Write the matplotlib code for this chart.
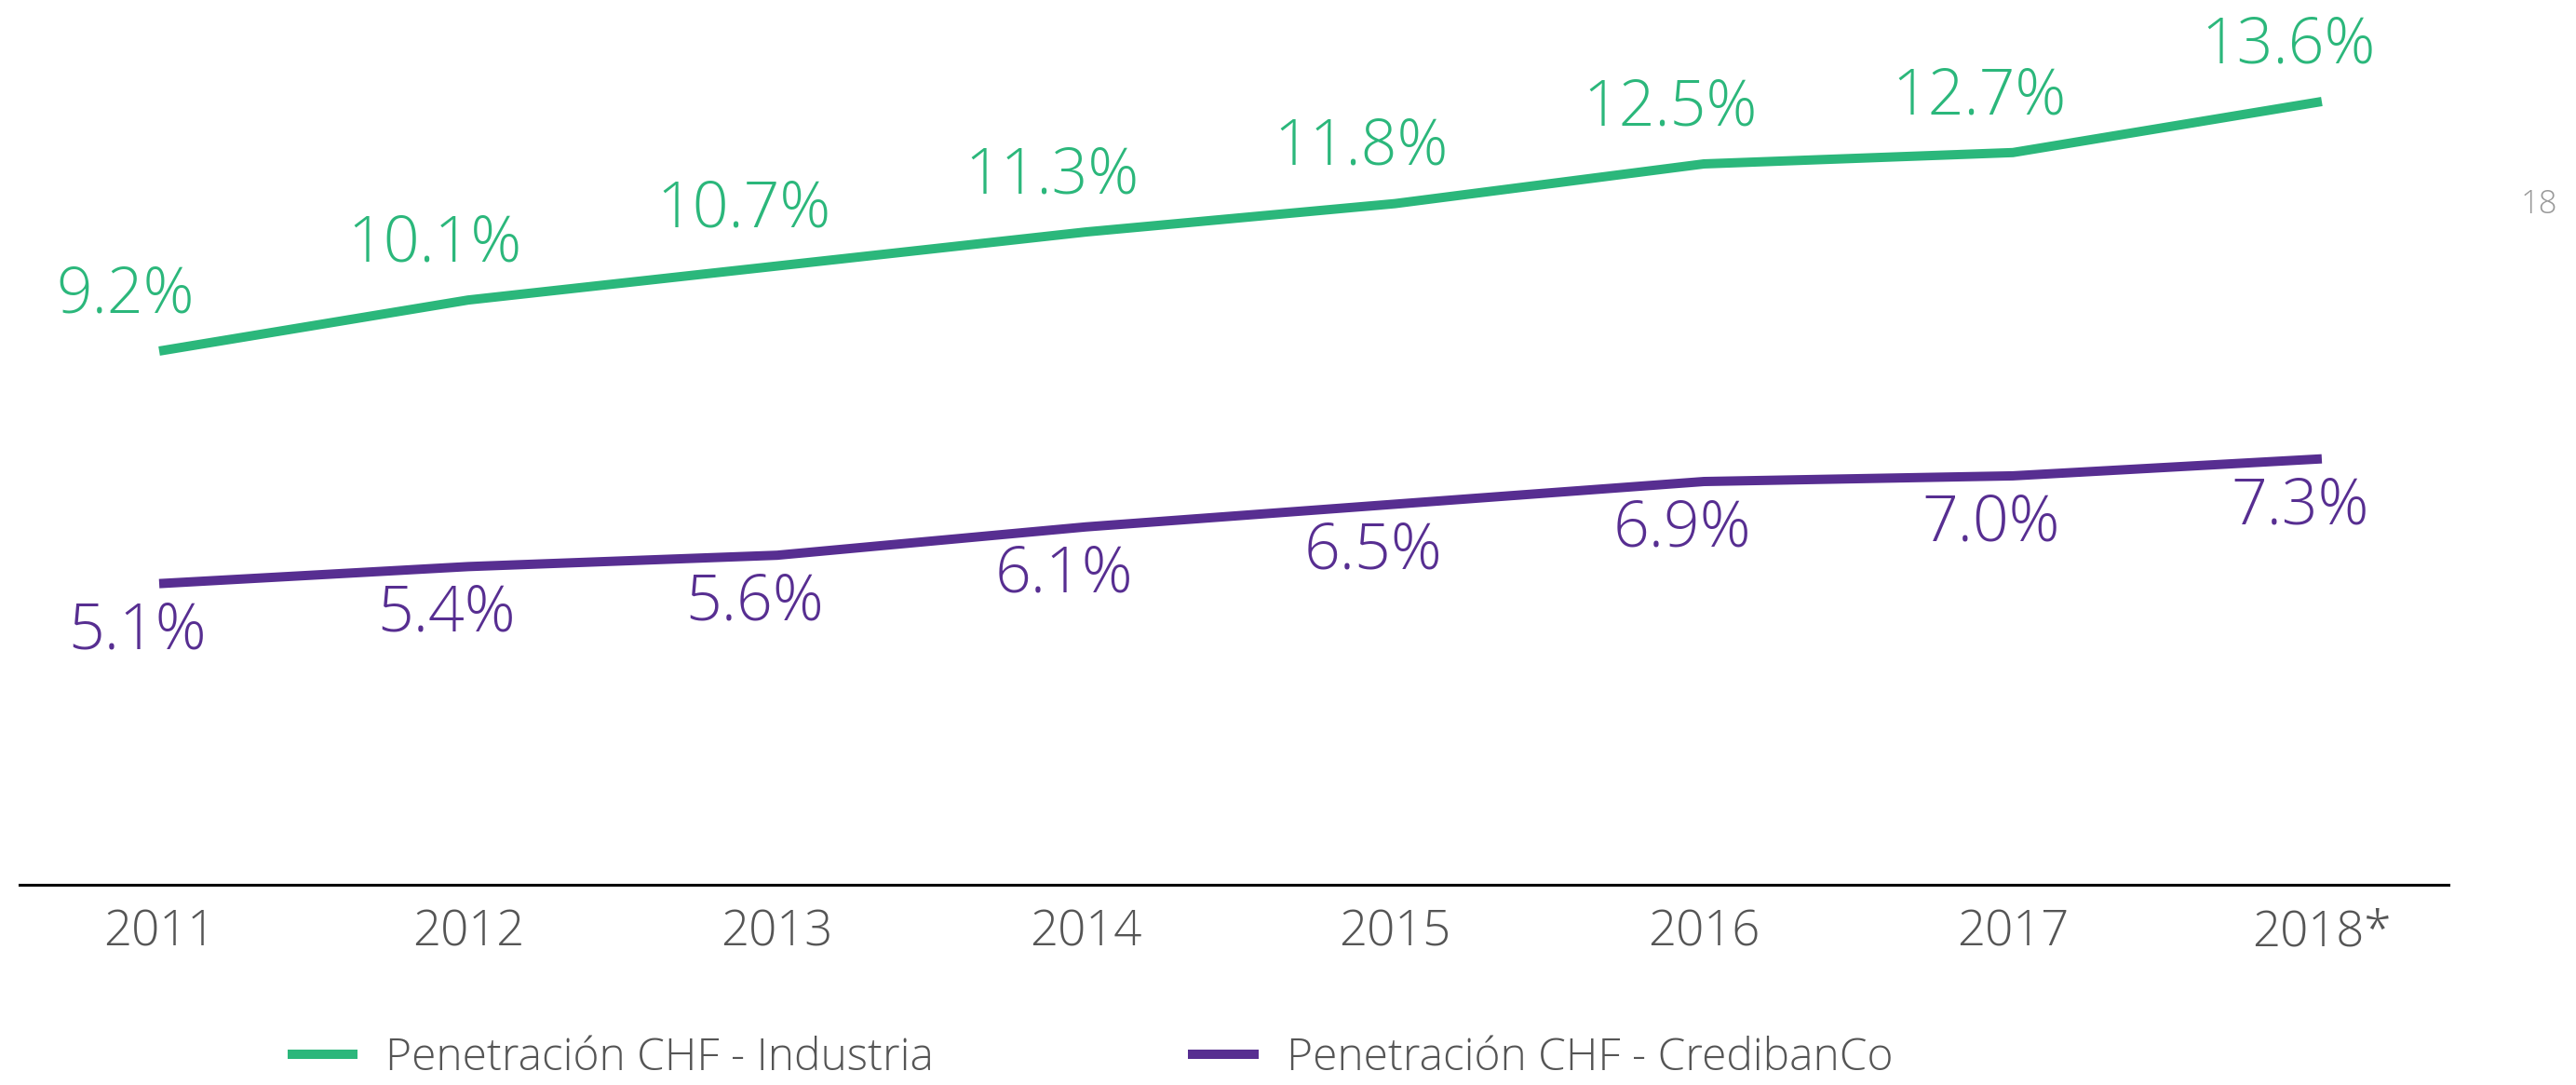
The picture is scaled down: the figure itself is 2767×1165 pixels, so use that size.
import matplotlib
matplotlib.use("Agg")
from matplotlib import pyplot as plt
from matplotlib.lines import Line2D

# data
years = ["2011", "2012", "2013", "2014", "2015", "2016", "2017", "2018*"]
industria = [9.2, 10.1, 10.7, 11.3, 11.8, 12.5, 12.7, 13.6]
credibanco = [5.1, 5.4, 5.6, 6.1, 6.5, 6.9, 7.0, 7.3]
series_names = ["Penetración CHF - Industria", "Penetración CHF - CredibanCo"]

GREEN = "#2bb77b"
PURPLE = "#572e91"
GREY = "#555555"

plt.rcParams['font.family'] = ['Open Sans', 'DejaVu Sans']

fig = plt.figure(figsize=(27.67, 11.65), dpi=100)
ax = fig.add_axes([21/2767, 1 - 950/1165, (2630-21)/2767, 950/1165])

x_pos = list(range(len(years)))
ax.plot(x_pos, industria, color=GREEN, lw=7.2, solid_capstyle='butt')
ax.plot(x_pos, credibanco, color=PURPLE, lw=7.2, solid_capstyle='butt')

# value labels
for i, v in enumerate(industria):
    ax.annotate(f"{v:.1f}%", (i, v), xytext=(-26, 43), textcoords='offset points',
                ha='center', va='center', fontsize=49, color=GREEN, fontweight='light')
for i, v in enumerate(credibanco):
    ax.annotate(f"{v:.1f}%", (i, v), xytext=(-17, -37), textcoords='offset points',
                ha='center', va='center', fontsize=49, color=PURPLE, fontweight='light')

ax.set_xlim(-0.452, 7.41)
ax.set_ylim(-0.21, 15.39)
ax.set_xticks(x_pos)
ax.set_xticklabels(years, fontsize=38, color=GREY, fontweight='light')
ax.tick_params(axis='x', length=0, pad=18)
ax.set_yticks([])
for s in ['top', 'right', 'left']:
    ax.spines[s].set_visible(False)
ax.spines['bottom'].set_linewidth(2.2)
ax.spines['bottom'].set_color('black')

handles = [Line2D([], [], color=GREEN, lw=7.2, solid_capstyle='butt'),
           Line2D([], [], color=PURPLE, lw=7.2, solid_capstyle='butt')]
leg = fig.legend(handles, series_names, loc='center left', bbox_to_anchor=(309/2767, 28/1165),
                 ncol=2, frameon=False, fontsize=34.5, handlelength=1.57, handletextpad=0.63,
                 columnspacing=5.7, borderpad=0, borderaxespad=0)
for t in leg.get_texts():
    t.set_color(GREY)
    t.set_fontweight('light')

fig.text(2727/2767, 1 - 220/1165, "18", fontsize=25, color="#999999",
         ha='center', va='center', fontweight='light')

plt.savefig('out.png', dpi=100)
